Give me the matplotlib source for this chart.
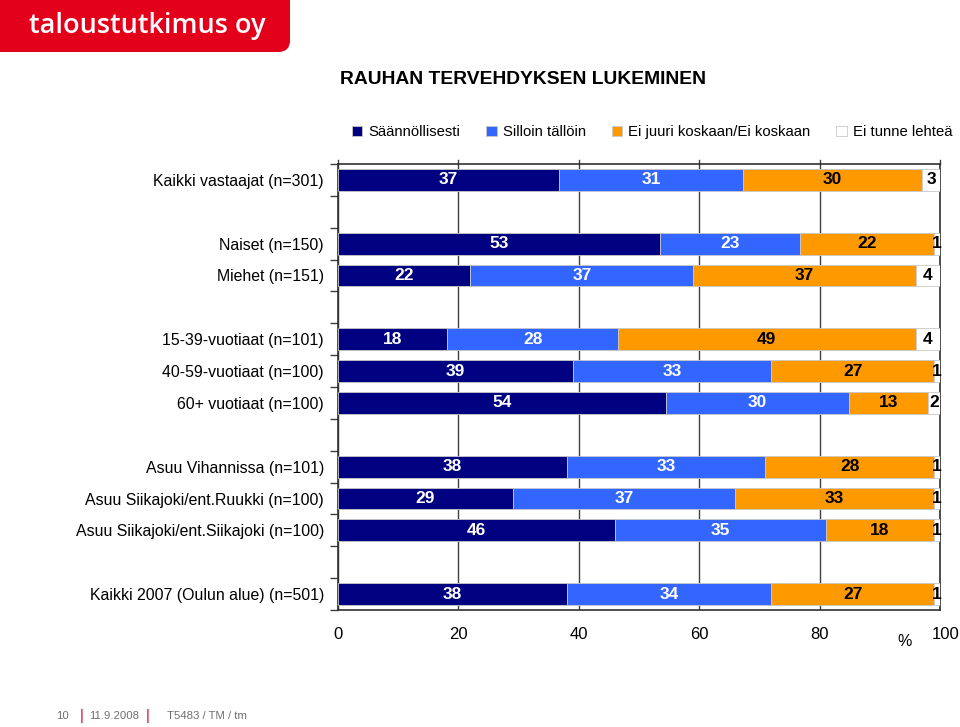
import matplotlib
matplotlib.use("Agg")
import matplotlib.pyplot as plt
import numpy as np
import matplotlib.transforms as mtransforms
from matplotlib.patches import FancyBboxPatch
from matplotlib.ticker import FixedLocator

plt.rcParams['font.family'] = ['Liberation Sans', 'DejaVu Sans']

title = "RAUHAN TERVEHDYKSEN LUKEMINEN"
categories = [
    "Kaikki vastaajat (n=301)", "",
    "Naiset (n=150)", "Miehet (n=151)", "",
    "15-39-vuotiaat (n=101)", "40-59-vuotiaat (n=100)", "60+ vuotiaat (n=100)", "",
    "Asuu Vihannissa (n=101)", "Asuu Siikajoki/ent.Ruukki (n=100)", "Asuu Siikajoki/ent.Siikajoki (n=100)", "",
    "Kaikki 2007 (Oulun alue) (n=501)",
]
series_names = ["Säännöllisesti", "Silloin tällöin", "Ei juuri koskaan/Ei koskaan", "Ei tunne lehteä"]
saannollisesti = [37, None, 53, 22, None, 18, 39, 54, None, 38, 29, 46, None, 38]
silloin = [31, None, 23, 37, None, 28, 33, 30, None, 33, 37, 35, None, 34]
ei_koskaan = [30, None, 22, 37, None, 49, 27, 13, None, 28, 33, 18, None, 27]
ei_tunne = [3, None, 1, 4, None, 4, 1, 2, None, 1, 1, 1, None, 1]
xticks = [0, 20, 40, 60, 80, 100]

colors = ["#000080", "#3366FF", "#FF9900", "#FFFFFF"]
text_colors = ["white", "white", "black", "black"]
val_font = ["Liberation Sans Narrow", "Liberation Sans", "DejaVu Sans"]

fig = plt.figure(figsize=(9.6, 7.27), dpi=100)
W, H = 960, 727
ax = fig.add_axes([338 / W, 1 - 610 / H, (940 - 338) / W, (610 - 164) / H])

series = [saannollisesti, silloin, ei_koskaan, ei_tunne]
n = len(categories)
ypos = np.arange(n)
handles = []
for ri in range(n):
    if saannollisesti[ri] is None:
        continue
    vals = [s[ri] for s in series]
    tot = sum(vals)
    left = 0.0
    for si, v in enumerate(vals):
        w = v / tot * 100
        b = ax.barh(ri, w, left=left, height=0.69, color=colors[si],
                    edgecolor="#C8C8C8", linewidth=0.6, zorder=3)
        if ri == 0:
            handles.append(b)
        ax.text(left + w / 2, ri, str(v), ha="center", va="center",
                color=text_colors[si], fontsize=12.5, fontweight="bold",
                family=val_font, zorder=4)
        left += w

ax.set_xlim(0, 100)
ax.set_ylim(n - 0.5, -0.5)
ax.set_yticks(ypos)
ax.set_yticklabels(categories, fontsize=11.4)
ax.tick_params(axis="y", which="major", length=0, pad=10)
ax.yaxis.set_minor_locator(FixedLocator(np.arange(-0.5, n, 1.0)))
ax.tick_params(axis="y", which="minor", length=6, width=1, color="#404040", direction="out")
ax.set_xticks(xticks)
ax.set_xticklabels([str(t) for t in xticks], fontsize=12)
ax.tick_params(axis="x", which="major", length=0, pad=12)
lbls = ax.get_xticklabels()
lbls[-1].set_transform(lbls[-1].get_transform() + mtransforms.ScaledTranslation(6 / 100, 0, fig.dpi_scale_trans))
ax.grid(axis="x", color="#404040", linewidth=1, zorder=1)
for sp in ax.spines.values():
    sp.set_color("#303030")
    sp.set_linewidth(1.2)
ax.set_axisbelow(True)

# top ticks extending above top line
for t in xticks:
    ax.plot([t, t], [-0.5, -0.62], color="#404040", lw=1, clip_on=False, zorder=2)

fig.text(905 / W, 1 - 642 / H, "%", ha="center", va="center", fontsize=11.5)

fig.text(340 / W, 1 - 79 / H, title, ha="left", va="center", fontsize=13.9, fontweight="bold")

leg = fig.legend(handles=handles, labels=series_names, loc="center left",
                 bbox_to_anchor=(352 / W, 1 - 132 / H), ncol=4, frameon=False,
                 fontsize=10.7, handlelength=0.7, handleheight=0.7, handletextpad=0.4,
                 columnspacing=1.75, borderaxespad=0, borderpad=0)

# header
hdr = FancyBboxPatch((-20 / W, 1 - 52 / H), 310 / W, 80 / H,
                     boxstyle="round,pad=0,rounding_size=0.012",
                     transform=fig.transFigure, facecolor="#E2001A", edgecolor="none",
                     mutation_aspect=W / H)
fig.patches.append(hdr)
fig.text(147 / W, 1 - 33 / H, "taloustutkimus oy", ha="center", va="baseline",
         color="white", fontsize=19.5, fontweight="semibold", family=["Open Sans", "DejaVu Sans"])

# footer
fc = "#707070"
fs = 8.2
fig.text(62 / W, 1 - 716 / H, "10", ha="center", va="center", fontsize=fs, color=fc)
fig.text(82 / W, 1 - 716 / H, "|", ha="center", va="center", fontsize=10, color="#E0506A", fontweight="bold")
fig.text(114 / W, 1 - 716 / H, "11.9.2008", ha="center", va="center", fontsize=fs, color=fc)
fig.text(148 / W, 1 - 716 / H, "|", ha="center", va="center", fontsize=10, color="#E0506A", fontweight="bold")
fig.text(207 / W, 1 - 716 / H, "T5483 / TM / tm", ha="center", va="center", fontsize=fs, color=fc)

fig.savefig("out.png", dpi=100)
